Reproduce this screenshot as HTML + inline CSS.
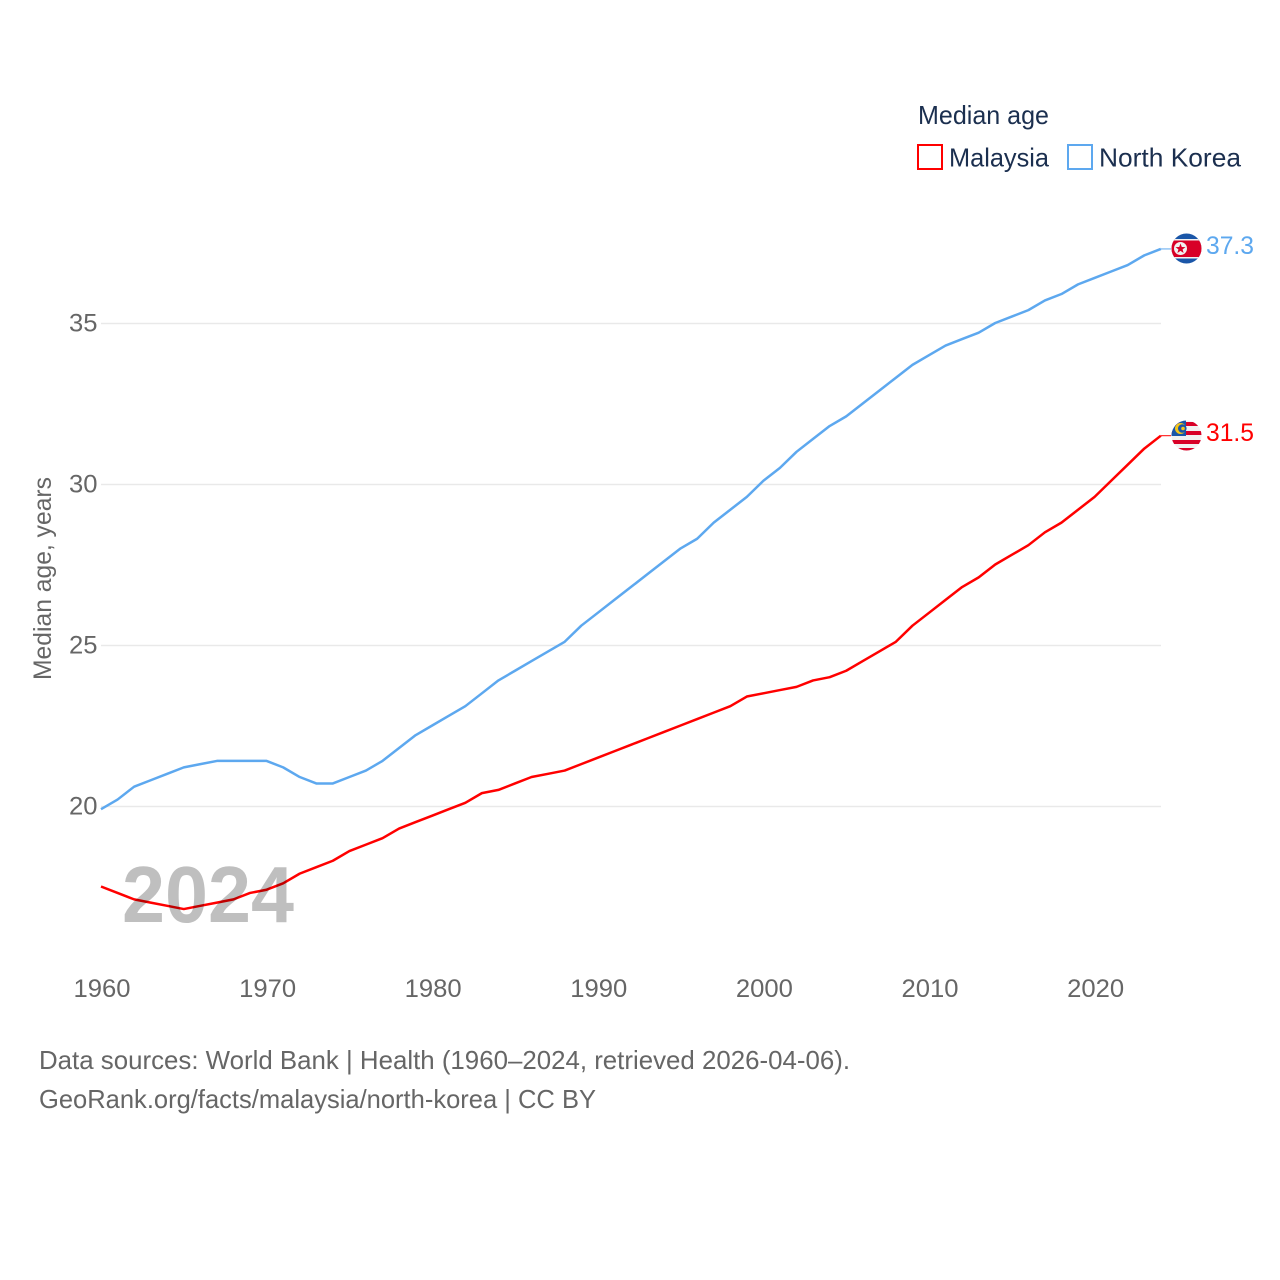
<!DOCTYPE html>
<html lang="en">
<head>
<meta charset="utf-8">
<title>Median age: Malaysia and North Korea</title>
<style>
html,body{margin:0;padding:0;background:#fff}
svg{display:block}
text{font-family:"Liberation Sans",sans-serif}
</style>
</head>
<body>
<svg id="chart" xmlns="http://www.w3.org/2000/svg" width="1280" height="1280" viewBox="0 0 1280 1280">
  <defs>
    <clipPath id="clip-kp"><circle cx="1186.5" cy="248.5" r="15"/></clipPath>
    <clipPath id="clip-my"><circle cx="1186.5" cy="435.5" r="15"/></clipPath>
  </defs>
  <rect width="1280" height="1280" fill="#fff"/>
  <g id="grid"></g>
  <g id="y-ticks"></g>
  <g id="x-ticks"></g>
  <g id="series" transform="translate(0,-0.5)"></g>

  <text transform="translate(51,680) rotate(-90)" font-size="25" fill="#666" textLength="203" lengthAdjust="spacingAndGlyphs">Median age, years</text>

  <text x="918" y="124" font-size="26" fill="#1b2f4f" textLength="131" lengthAdjust="spacingAndGlyphs">Median age</text>
  <g>
    <rect x="918" y="145" width="24" height="24" fill="#fff" stroke="#ff0000" stroke-width="2"/>
    <text x="949" y="166.500" font-size="26" fill="#1b2f4f" textLength="100" lengthAdjust="spacingAndGlyphs">Malaysia</text>
  </g>
  <g>
    <rect x="1068" y="145" width="24" height="24" fill="#fff" stroke="#5da8ef" stroke-width="2"/>
    <text x="1099" y="166.500" font-size="26" fill="#1b2f4f" textLength="142" lengthAdjust="spacingAndGlyphs">North Korea</text>
  </g>

  <g clip-path="url(#clip-kp)">
    <rect x="1170" y="232" width="33" height="33" fill="#1a56a8"/>
    <rect x="1170" y="239" width="33" height="19.5" fill="#f1f1f1"/>
    <rect x="1170" y="240.500" width="33" height="16.500" fill="#d80027"/>
    <circle cx="1180.5" cy="248.5" r="6.5" fill="#f1f1f1"/>
    <polygon points="1180.5,243.5 1181.8,247 1185.5,247.1 1182.6,249.4 1183.6,253 1180.5,250.9 1177.4,253 1178.4,249.4 1175.5,247.1 1179.2,247" fill="#d80027"/>
  </g>
  <g clip-path="url(#clip-my)">
    <rect x="1170" y="419" width="33" height="33" fill="#f1f1f1"/>
    <rect x="1170" y="422" width="33" height="4" fill="#d80027"/>
    <rect x="1170" y="431" width="33" height="4" fill="#d80027"/>
    <rect x="1170" y="440" width="33" height="4" fill="#d80027"/>
    <rect x="1170" y="448" width="33" height="4" fill="#d80027"/>
    <rect x="1170" y="419" width="16" height="17" fill="#1a56a8"/>
    <circle cx="1180.5" cy="428.5" r="5.500" fill="#f5c518"/>
    <circle cx="1182.3" cy="428.5" r="4.300" fill="#1a56a8"/>
    <circle cx="1183" cy="428.5" r="1.800" fill="#f5c518"/>
  </g>

  <text x="1206" y="254" font-size="25" fill="#5da8ef" textLength="48" lengthAdjust="spacingAndGlyphs">37.3</text>
  <text x="1206" y="441" font-size="25" fill="#ff0000" textLength="48" lengthAdjust="spacingAndGlyphs">31.5</text>

  <text x="122" y="922" font-size="80" font-weight="700" fill="#000" fill-opacity="0.25" textLength="172" lengthAdjust="spacingAndGlyphs">2024</text>

  <text x="39" y="1069" font-size="26" fill="#666" textLength="811" lengthAdjust="spacingAndGlyphs">Data sources: World Bank | Health (1960–2024, retrieved 2026-04-06).</text>
  <text x="39" y="1108" font-size="26" fill="#666" textLength="557" lengthAdjust="spacingAndGlyphs">GeoRank.org/facts/malaysia/north-korea | CC BY</text>
</svg>
<script>
const startYear = 1960;
const yTickValues = [20, 25, 30, 35];
const xTickValues = [1960, 1970, 1980, 1990, 2000, 2010, 2020];
const malaysiaValues = [17.5,17.3,17.1,17.0,16.9,16.8,16.9,17.0,17.1,17.3,17.4,17.6,17.9,18.1,18.3,18.6,18.8,19.0,19.3,19.5,19.7,19.9,20.1,20.4,20.5,20.7,20.9,21.0,21.1,21.3,21.5,21.7,21.9,22.1,22.3,22.5,22.7,22.9,23.1,23.4,23.5,23.6,23.7,23.9,24.0,24.2,24.5,24.8,25.1,25.6,26.0,26.4,26.8,27.1,27.5,27.8,28.1,28.5,28.8,29.2,29.6,30.1,30.6,31.1,31.5];
const northKoreaValues = [19.9,20.2,20.6,20.8,21.0,21.2,21.3,21.4,21.4,21.4,21.4,21.2,20.9,20.7,20.7,20.9,21.1,21.4,21.8,22.2,22.5,22.8,23.1,23.5,23.9,24.2,24.5,24.8,25.1,25.6,26.0,26.4,26.8,27.2,27.6,28.0,28.3,28.8,29.2,29.6,30.1,30.5,31.0,31.4,31.8,32.1,32.5,32.9,33.3,33.7,34.0,34.3,34.5,34.7,35.0,35.2,35.4,35.7,35.9,36.2,36.4,36.6,36.8,37.1,37.3];

const NS = 'http://www.w3.org/2000/svg';
const xScale = year => 101 + (year - 1960) * 16.56;
const yScale = value => 806.5 - (value - 20) * 32.2;

const grid = document.getElementById('grid');
const yTicks = document.getElementById('y-ticks');
const xTicks = document.getElementById('x-ticks');
const series = document.getElementById('series');

yTickValues.forEach(function (value) {
  const line = document.createElementNS(NS, 'line');
  
  
  line.setAttribute('x1', 101);
  line.setAttribute('x2', 1161);
  line.setAttribute('y1', yScale(value));
  line.setAttribute('y2', yScale(value));
  line.setAttribute('stroke', '#e9e9e9');
  line.setAttribute('stroke-width', 1.5);
  grid.appendChild(line);

  const label = document.createElementNS(NS, 'text');
  
  
  label.setAttribute('x', 69);
  label.setAttribute('y', yScale(value) + 8);
  label.setAttribute('font-size', 25);
  label.setAttribute('fill', '#666');
  label.setAttribute('textLength', 28.5);
  label.setAttribute('lengthAdjust', 'spacingAndGlyphs');
  label.textContent = value;
  yTicks.appendChild(label);
});

xTickValues.forEach(function (year) {
  const label = document.createElementNS(NS, 'text');
  
  
  label.setAttribute('x', xScale(year) - 27.5);
  label.setAttribute('y', 997);
  label.setAttribute('font-size', 25);
  label.setAttribute('fill', '#666');
  label.setAttribute('textLength', 57);
  label.setAttribute('lengthAdjust', 'spacingAndGlyphs');
  label.textContent = year;
  xTicks.appendChild(label);
});

function drawSeries(values, color, name) {
  const points = values.map((value, i) => xScale(startYear + i).toFixed(2) + ',' + yScale(value).toFixed(2));
  const path = document.createElementNS(NS, 'polyline');
  
  
  path.setAttribute('points', points.join(' '));
  path.setAttribute('fill', 'none');
  path.setAttribute('stroke', color);
  path.setAttribute('stroke-width', 2.5);
  path.setAttribute('stroke-linejoin', 'round');
  series.appendChild(path);

  const lastY = yScale(values[values.length - 1]);
  const connector = document.createElementNS(NS, 'line');
  
  
  connector.setAttribute('x1', xScale(startYear + values.length - 1));
  connector.setAttribute('x2', 1171);
  connector.setAttribute('y1', lastY);
  connector.setAttribute('y2', lastY);
  connector.setAttribute('stroke', color);
  connector.setAttribute('stroke-width', 1);
  series.appendChild(connector);
}

drawSeries(northKoreaValues, '#5da8ef', 'north-korea-line');
drawSeries(malaysiaValues, '#ff0000', 'malaysia-line');
</script>
</body>
</html>
